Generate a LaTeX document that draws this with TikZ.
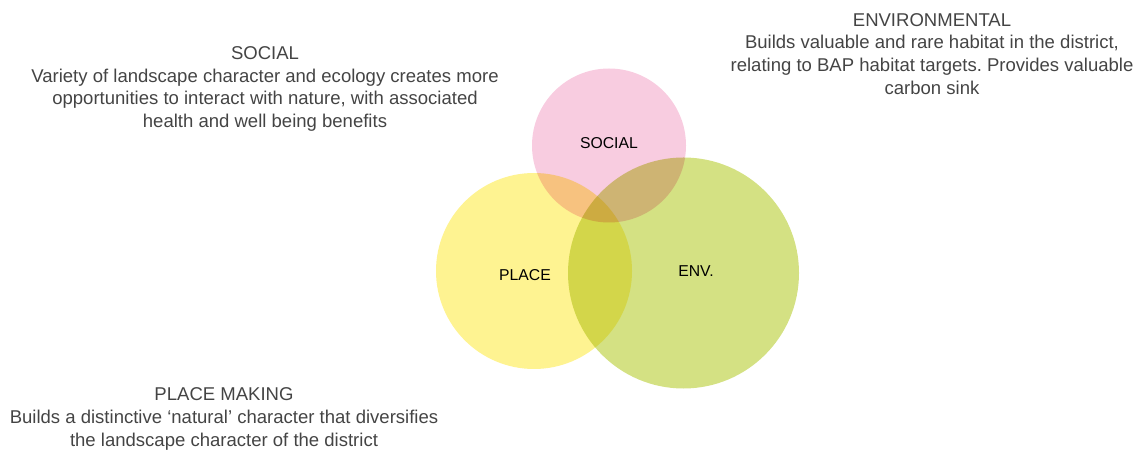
\documentclass[tikz,border=0pt]{standalone}
\usepackage{fontspec}
\setmainfont{Liberation Sans}
\frenchspacing
\definecolor{txt}{HTML}{444444}
\definecolor{socialc}{HTML}{F8CCE0}
\definecolor{placec}{HTML}{FEF391}
\definecolor{envc}{HTML}{D4E183}
\begin{document}
\begin{tikzpicture}[x=1bp,y=-1bp,
  blob/.style={circle,inner sep=0pt},
  desc/.style={align=center,text=txt,inner sep=0pt,font=\fontsize{18.6}{23}\selectfont},
  lbl/.style={text=black,font=\fontsize{15.8}{18}\selectfont}]
\useasboundingbox (0,0) rectangle (1136,450);
\begin{scope}[blend group=multiply]
\node[blob,fill=socialc,minimum size=154bp] (soc) at (609,145.5) {};
\node[blob,fill=placec,minimum size=196bp] (plc) at (534,271) {};
\node[blob,fill=envc,minimum size=231bp] (env) at (683.5,273) {};
\end{scope}
\node[lbl] (socl) at (609,143) {SOCIAL};
\node[lbl] (plcl) at (525,275) {PLACE};
\node[lbl] (envl) at (696,271) {ENV.};
\node[desc] (socd) at (265,89) {SOCIAL\\Variety of landscape character and ecology creates more\\opportunities to interact with nature, with associated\\health and well being benefits};
\node[desc] (envd) at (932,54) {ENVIRONMENTAL\\Builds valuable and rare habitat in the district,\\relating to BAP habitat targets. Provides valuable\\carbon sink};
\node[desc] (plcd) at (224,419) {PLACE MAKING\\Builds a distinctive ‘natural’ character that diversifies\\the landscape character of the district};
\end{tikzpicture}
\end{document}
